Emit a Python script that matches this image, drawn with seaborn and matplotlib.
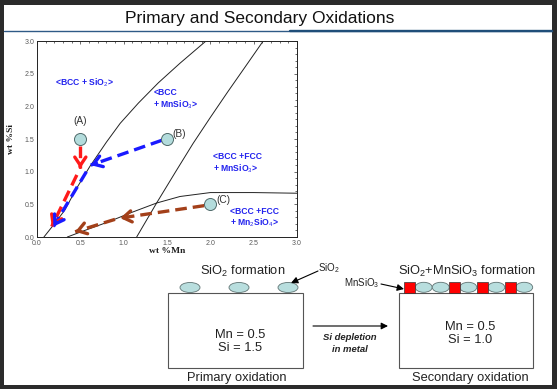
import numpy as np
import pandas as pd
import seaborn as sns
import matplotlib.pyplot as plt
from matplotlib.patches import Rectangle, Ellipse
from matplotlib.ticker import MultipleLocator

sns.set_style("white")
plt.rcParams['font.family'] = ['Liberation Sans', 'DejaVu Sans']
plt.rcParams['mathtext.fontset'] = 'custom'
plt.rcParams['mathtext.rm'] = 'Liberation Sans'
plt.rcParams['mathtext.it'] = 'Liberation Sans:italic'
plt.rcParams['mathtext.bf'] = 'Liberation Sans:bold'

# phase boundaries (wt% Mn, wt% Si)
b1_mn = [0.08, 0.2, 0.32, 0.45, 0.61, 0.8, 0.96, 1.17, 1.4, 1.65, 1.95]
b1_si = [0.0, 0.2, 0.41, 0.73, 1.08, 1.45, 1.74, 2.05, 2.36, 2.66, 3.0]
b2_mn = [1.15, 1.38, 1.6, 1.8, 2.0, 2.2, 2.4, 2.61]
b2_si = [0.0, 0.52, 1.0, 1.43, 1.83, 2.22, 2.6, 3.0]
b3_mn = [0.35, 0.55, 0.8, 1.1, 1.38, 1.65, 2.0, 2.5, 3.0]
b3_si = [0.0, 0.1, 0.22, 0.38, 0.52, 0.62, 0.68, 0.68, 0.67]

# compositions A, B, C
pt_names = ['(A)', '(B)', '(C)']
pt_mn = [0.5, 1.5, 2.0]
pt_si = [1.5, 1.5, 0.5]

# oxidation paths: (start, tip) pairs
red_path = [((0.5, 1.40), (0.5, 1.05)), ((0.46, 0.95), (0.17, 0.16))]
blue_path = [((1.44, 1.48), (0.62, 1.10)), ((0.57, 1.0), (0.19, 0.16))]
brown_path = [((1.93, 0.48), (0.96, 0.29)), ((0.9, 0.27), (0.44, 0.08))]

regions = ['<BCC + SiO$_2$>', '<BCC\n+ MnSiO$_3$>', '<BCC +FCC\n+ MnSiO$_3$>', '<BCC +FCC\n+ Mn$_2$SiO$_4$>']
region_mn = [0.21, 1.34, 2.03, 2.23]
region_si = [2.36, 2.11, 1.12, 0.29]

W, H = 557, 389
fig = plt.figure(figsize=(W / 100, H / 100), dpi=100)
fig.patch.set_facecolor('#2b2b2b')

# slide layer in pixel coordinates
dax = fig.add_axes([0, 0, 1, 1])
dax.set_xlim(0, W)
dax.set_ylim(H, 0)
dax.axis('off')
dax.add_patch(Rectangle((4, 5), 548, 380, fc='white', ec='none'))
dax.plot([4, 552], [31, 31], color='#2f5a86', lw=1.0)
dax.plot([290, 552], [31, 31], color='#1f4e79', lw=1.7)
dax.text(260, 18, 'Primary and Secondary Oxidations', ha='center', va='center',
         fontsize=12.5, color='#111111')

txt = '#222222'
fs = 9.3
# primary oxidation box
dax.add_patch(Rectangle((168, 292.5), 135, 75, fc='white', ec='#555555', lw=0.8))
for cx in [190, 239, 288]:
    dax.add_patch(Ellipse((cx, 287.5), 20, 10, fc='#b8dede', ec='#5f7373', lw=0.6))
dax.text(243, 271, 'SiO$_2$ formation', ha='center', va='center', fontsize=fs, color=txt)
dax.text(318, 268, 'SiO$_2$', ha='left', va='center', fontsize=7, color=txt)
dax.annotate('', xy=(291, 283), xytext=(318, 271),
             arrowprops=dict(arrowstyle='-|>,head_length=0.4,head_width=0.2', color='black', lw=0.8,
                             shrinkA=0, shrinkB=0))
dax.text(240, 335, 'Mn = 0.5', ha='center', va='center', fontsize=fs, color=txt)
dax.text(240, 348, 'Si = 1.5', ha='center', va='center', fontsize=fs, color=txt)
dax.text(237, 378, 'Primary oxidation', ha='center', va='center', fontsize=fs, color=txt)

# depletion arrow
dax.annotate('', xy=(388, 326), xytext=(313, 326),
             arrowprops=dict(arrowstyle='-|>,head_length=0.4,head_width=0.2', color='black', lw=0.8,
                             shrinkA=0, shrinkB=0))
dax.text(350, 337, 'Si depletion', ha='center', va='center', fontsize=6.8,
         style='italic', weight='bold', color=txt)
dax.text(350, 349, 'in metal', ha='center', va='center', fontsize=6.8,
         style='italic', weight='bold', color=txt)

# secondary oxidation box
dax.add_patch(Rectangle((399, 292.5), 134, 75, fc='white', ec='#555555', lw=0.8))
for cx in [423.7, 440.7, 468.3, 496.3, 524.2]:
    dax.add_patch(Ellipse((cx, 287.3), 17, 10, fc='#b8dede', ec='#5f7373', lw=0.6))
for x0 in [404.3, 449, 476.7, 505]:
    dax.add_patch(Rectangle((x0, 282), 10.8, 10.5, fc='#ff0000', ec='#333333', lw=0.5))
dax.text(467, 271, 'SiO$_2$+MnSiO$_3$ formation', ha='center', va='center', fontsize=fs, color=txt)
dax.text(362, 283, 'MnSiO$_3$', ha='center', va='center', fontsize=7, color=txt)
dax.annotate('', xy=(404, 289), xytext=(381, 284),
             arrowprops=dict(arrowstyle='-|>,head_length=0.4,head_width=0.2', color='black', lw=0.8,
                             shrinkA=0, shrinkB=0))
dax.text(470, 327, 'Mn = 0.5', ha='center', va='center', fontsize=fs, color=txt)
dax.text(470, 340, 'Si = 1.0', ha='center', va='center', fontsize=fs, color=txt)
dax.text(470, 378, 'Secondary oxidation', ha='center', va='center', fontsize=fs, color=txt)

# phase diagram
ax = fig.add_axes([37 / W, 1 - 237 / H, 260 / W, 196 / H])
ax.set_facecolor('white')
for bx, by in [(b1_mn, b1_si), (b2_mn, b2_si), (b3_mn, b3_si)]:
    sns.lineplot(x=bx, y=by, ax=ax, color='#222222', lw=0.7, sort=False)


def dashed_arrow(path, color):
    for (x0, y0), (x1, y1) in path:
        ax.plot([x0, x1], [y0, y1], color=color, lw=2.4, ls=(0, (3.5, 1.8)),
                solid_capstyle='butt', zorder=4)
        bx = x1 + 0.08 * (x0 - x1)
        by = y1 + 0.08 * (y0 - y1)
        ax.annotate('', xy=(x1, y1), xytext=(bx, by),
                    arrowprops=dict(arrowstyle='->,head_length=0.6,head_width=0.4',
                                    color=color, lw=2.4, shrinkA=0, shrinkB=0), zorder=5)


dashed_arrow(red_path, '#ff1a1a')
dashed_arrow(blue_path, '#1a1aff')
dashed_arrow(brown_path, '#a3401a')

pts = pd.DataFrame({'mn': pt_mn, 'si': pt_si, 'name': pt_names})
sns.scatterplot(data=pts, x='mn', y='si', ax=ax, s=75, color='#b3dcdc',
                edgecolor='#4f6a6a', linewidth=0.7, zorder=6)
ax.text(pt_mn[0], pt_si[0] + 0.27, pt_names[0], ha='center', va='center', fontsize=7.3, color='#333333')
ax.text(pt_mn[1] + 0.06, pt_si[1] + 0.07, pt_names[1], ha='left', va='center', fontsize=7.3, color='#333333')
ax.text(pt_mn[2] + 0.07, pt_si[2] + 0.07, pt_names[2], ha='left', va='center', fontsize=7.3, color='#333333')

for lab, rx, ry in zip(regions, region_mn, region_si):
    ax.text(rx, ry, lab, ha='left', va='center', fontsize=6.2, color='#2222ee',
            weight='semibold', linespacing=1.15)

ax.set_xlim(0, 3)
ax.set_ylim(0, 3)
ax.xaxis.set_major_locator(MultipleLocator(0.5))
ax.yaxis.set_major_locator(MultipleLocator(0.5))
ax.xaxis.set_minor_locator(MultipleLocator(0.1))
ax.yaxis.set_minor_locator(MultipleLocator(0.1))
ax.tick_params(which='both', direction='in', top=True, right=True, colors='#333333',
               labelcolor='#5a5a5a', labelsize=5, width=0.5, pad=2)
ax.tick_params(which='major', length=2.5)
ax.tick_params(which='minor', length=1.2)
ax.xaxis.set_major_formatter(plt.FuncFormatter(lambda v, p: f'{v:.1f}'))
ax.yaxis.set_major_formatter(plt.FuncFormatter(lambda v, p: f'{v:.1f}'))
for sp in ax.spines.values():
    sp.set_color('#222222')
    sp.set_linewidth(0.7)
ax.set_xlabel('wt %Mn', family='Liberation Serif', weight='bold', fontsize=6.8, color='#222222')
ax.set_ylabel('wt %Si', family='Liberation Serif', weight='bold', fontsize=6.8, color='#222222')
ax.xaxis.set_label_coords(0.5, -0.05)
ax.yaxis.set_label_coords(-0.083, 0.5)

fig.savefig('out.png', dpi=100, facecolor=fig.get_facecolor())
